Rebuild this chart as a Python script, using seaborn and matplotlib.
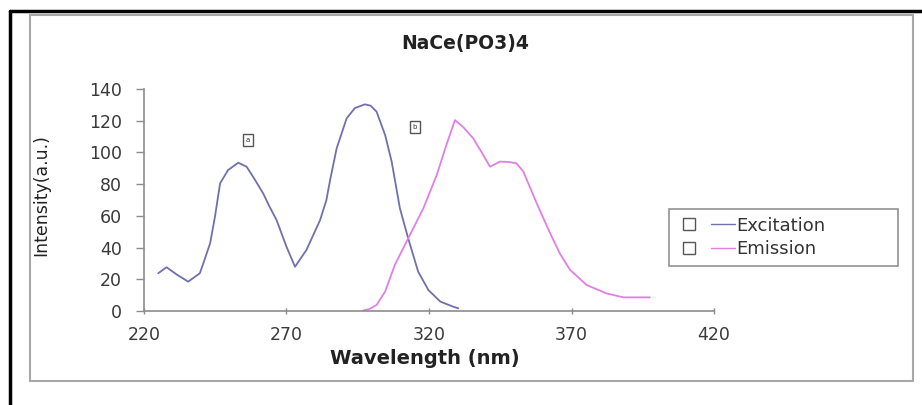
import numpy as np
import pandas as pd
import matplotlib
matplotlib.use("Agg")
import matplotlib.pyplot as plt
import seaborn as sns
from matplotlib.lines import Line2D
from matplotlib.legend_handler import HandlerTuple
from matplotlib.patches import Rectangle

# ---- data ----
exc_wl = [225, 227.9, 231.5, 235.5, 239.6, 240.8, 243.2, 244.9, 246.7, 249.5, 253.1,
          256, 258.5, 261.8, 264, 266.5, 270, 273, 277, 281.8, 284, 285.3, 287.6,
          291.1, 294, 297.5, 299.5, 301.6, 304.6, 306.9, 309.8, 312.7, 316.2, 319.8,
          324, 328.5, 330.3]
exc_int = [23.8, 27.6, 23, 18.5, 23.8, 30, 42.7, 59.5, 80.5, 88.9, 93.5,
           91, 84, 74.2, 66, 57.4, 40.5, 27.9, 38.5, 57.4, 70, 82.6, 102.6,
           121.5, 128, 130.3, 129.5, 125.7, 111, 94.2, 64.7, 45.8, 24.8, 13.2,
           5.9, 2.7, 1.7]

emi_wl = [296.9, 299, 301.6, 304.6, 308, 312.7, 318, 322.7, 326.1, 329.1, 332,
          335.5, 338.5, 341.4, 344.9, 348, 350.7, 353.1, 357.8, 362.5, 366,
          369.5, 375.3, 382.3, 388.2, 397.5]
emi_int = [0.3, 1.2, 3.8, 12.2, 29, 45.8, 64.7, 85.7, 104.7, 120.4, 116,
           108.9, 100, 91, 94.2, 94, 93.1, 87.9, 67.9, 49, 36,
           25.9, 16.4, 11.1, 8.6, 8.6]

title = "NaCe(PO3)4"
xlabel = "Wavelength (nm)"
ylabel = "Intensity(a.u.)"
series_names = ["Excitation", "Emission"]
xticks = [220, 270, 320, 370, 420]
yticks = [0, 20, 40, 60, 80, 100, 120, 140]

exc_color = "#7070ac"
emi_color = "#e07fe6"
axis_gray = "#8c8c8c"

sns.set_style("white")
plt.rcParams["font.family"] = ["DejaVu Sans"]

W, H = 922, 405
fig = plt.figure(figsize=(W / 100, H / 100), dpi=100)
fig.patch.set_facecolor("white")

ax = fig.add_axes([144 / W, 1 - 311 / H, (714 - 144) / W, (311 - 89) / H])
ax.set_facecolor("none")

df_exc = pd.DataFrame({"wl": exc_wl, "I": exc_int})
df_emi = pd.DataFrame({"wl": emi_wl, "I": emi_int})
sns.lineplot(data=df_exc, x="wl", y="I", ax=ax, color=exc_color, lw=1.3, sort=False)
sns.lineplot(data=df_emi, x="wl", y="I", ax=ax, color=emi_color, lw=1.3, sort=False)

ax.set_xlim(220, 420)
ax.set_ylim(0, 140)
ax.set_xticks(xticks)
ax.set_yticks(yticks)
ax.set_xlabel("")
ax.set_ylabel("")
for s in ["top", "right"]:
    ax.spines[s].set_visible(False)
for s in ["left", "bottom"]:
    ax.spines[s].set_color(axis_gray)
    ax.spines[s].set_linewidth(1.2)
ax.tick_params(axis="y", direction="out", length=6, width=1, color=axis_gray,
               labelsize=12.5, pad=10, labelcolor="#3a3a3a", left=True)
ax.tick_params(axis="x", direction="inout", length=5, width=1, color=axis_gray,
               labelsize=12.5, pad=8, labelcolor="#3a3a3a", bottom=True)

# small labelled boxes
box_kw = dict(boxstyle="square,pad=0.4", fc="white", ec="#555555", lw=1)
ax.text(256.5, 108, "a", fontsize=5, ha="center", va="center", bbox=box_kw, color="#333333")
ax.text(315, 116, "b", fontsize=5, ha="center", va="center", bbox=box_kw, color="#333333")

# titles
fig.text(465 / W, 1 - 44 / H, title, ha="center", va="center", fontsize=13.5,
         fontweight="bold", color="#222222")
fig.text(425 / W, 1 - 359 / H, xlabel, ha="center", va="center", fontsize=14,
         fontweight="bold", color="#222222")
fig.text(41 / W, 1 - 195 / H, ylabel, ha="center", va="center", fontsize=12.5,
         rotation=90, color="#222222",
         family=["Liberation Sans Narrow", "DejaVu Sans"])

# legend
sq = dict(marker="s", markersize=8, markerfacecolor="white", markeredgecolor="#555555",
          linestyle="none")
handles = [(Line2D([], [], **sq), Line2D([], [], color=exc_color, lw=1)),
           (Line2D([], [], **sq), Line2D([], [], color=emi_color, lw=1))]
leg = fig.legend(handles, series_names, loc="center",
                 bbox_to_anchor=(669 / W, 1 - 268 / H, (898 - 669) / W, 61 / H),
                 mode="expand",
                 handler_map={tuple: HandlerTuple(ndivide=None, pad=0.5)},
                 handlelength=3.2, fontsize=13, frameon=True, fancybox=False,
                 borderpad=0.45, labelspacing=0.3, handletextpad=0.1,
                 borderaxespad=0)
leg.get_frame().set_edgecolor("#777777")
leg.get_frame().set_linewidth(1.2)
for t in leg.get_texts():
    t.set_color("#333333")

# frames
fig.add_artist(Rectangle((30 / W, 1 - 381 / H), (913 - 30) / W, (381 - 15) / H,
                         transform=fig.transFigure, fill=False, ec="#a8a8a8", lw=1.5))
fig.add_artist(Line2D([10 / W, 1], [1 - 11 / H, 1 - 11 / H], transform=fig.transFigure,
                      color="black", lw=2.5))
fig.add_artist(Line2D([10 / W, 10 / W], [0, 1 - 11 / H], transform=fig.transFigure,
                      color="black", lw=2.5))

fig.savefig("out.png", dpi=100)
